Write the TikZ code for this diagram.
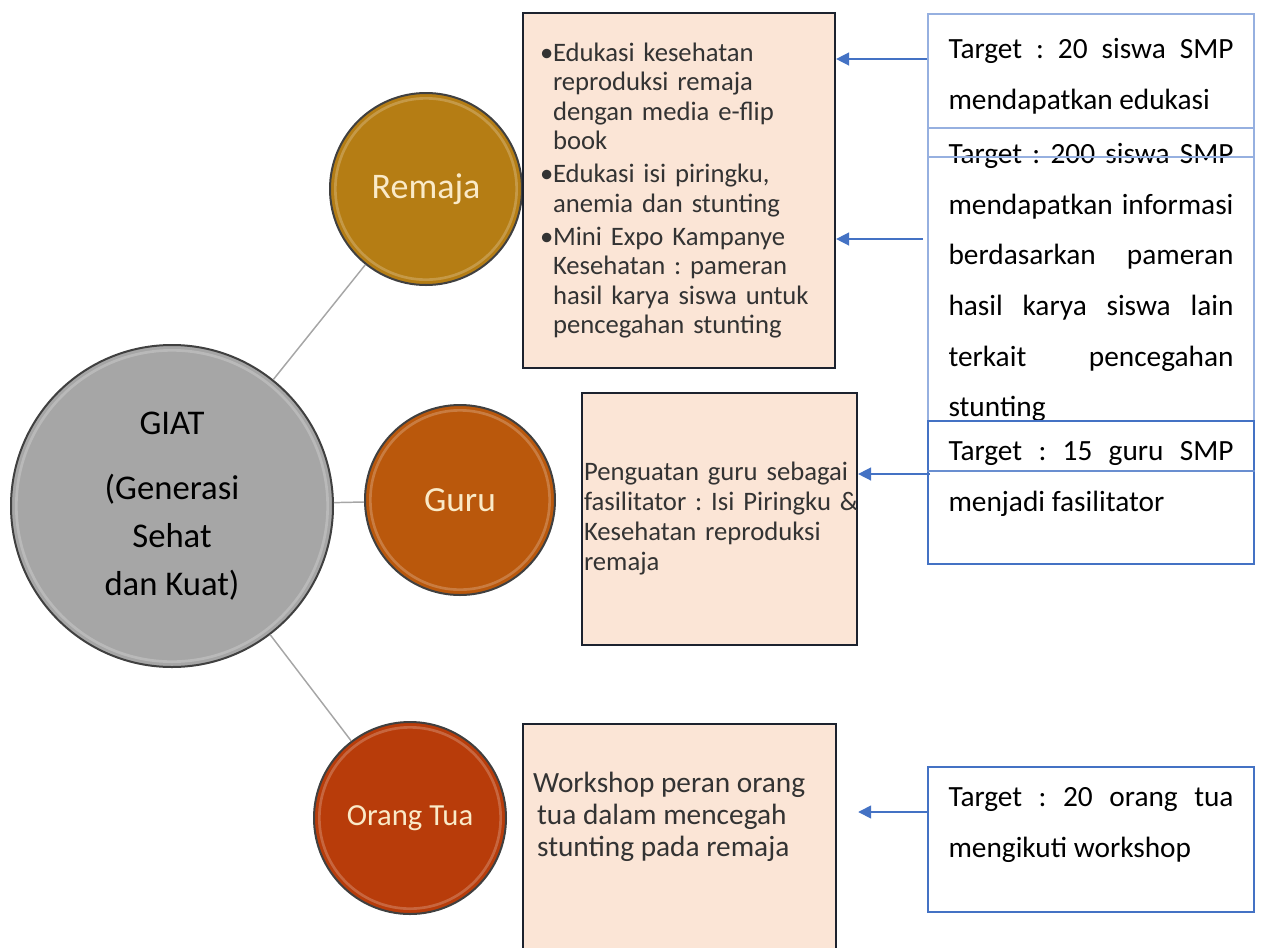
\documentclass[tikz,border=0pt]{standalone}
\usepackage{fontspec}
\setmainfont{Carlito}
\usepackage{tikz}
\usetikzlibrary{positioning,arrows.meta,calc}
\definecolor{giatgray}{RGB}{166,166,166}
\definecolor{remajagold}{RGB}{181,125,20}
\definecolor{guruorange}{RGB}{186,88,12}
\definecolor{ortured}{RGB}{184,60,10}
\definecolor{panelfill}{RGB}{251,229,214}
\definecolor{panelline}{RGB}{28,34,46}
\definecolor{targetlight}{RGB}{150,176,224}
\definecolor{targetblue}{RGB}{68,114,196}
\definecolor{labelcream}{RGB}{250,234,200}
\newlength{\px}\setlength{\px}{0.75pt}
\newcommand{\jline}[1]{\makebox[285\px][s]{#1}}
\newcommand{\tgt}[2]{\parbox[c][#1\px][t]{285\px}{\strut #2}}
\frenchspacing

\begin{document}
\frenchspacing
\begin{tikzpicture}[
        x=0.75pt, y=-0.75pt,
        bubble/.style={circle, draw=black!75, line width=1.5pt, fill=#1, inner sep=0pt, align=center,
            path picture={\draw[white, opacity=.22, line width=2pt] let \p1=(path picture bounding box.east), \p2=(path picture bounding box.center) in (\p2) circle[radius=\x1-\x2-4pt];}},
        panel/.style={rectangle, draw=panelline, line width=1.65pt, fill=panelfill, text=black!80},
        target/.style={rectangle, draw=#1, line width=1.5pt, anchor=north west, inner xsep=20.5\px,
            font=\fontsize{22pt}{38pt}\selectfont},
        link/.style={draw=black!35, line width=1.1pt},
        arrow/.style={-{Triangle[length=9.75pt, width=9.75pt]}, targetblue, line width=1.1pt}
    ]
        \useasboundingbox (0,0) rectangle (1261,947);

        % circles
        \node[bubble=giatgray, minimum size=322\px, font=\fontsize{26pt}{36pt}\selectfont] (giat) at (172,506)
            {GIAT\\[13pt](Generasi\\Sehat\\dan Kuat)};
        \node[bubble=remajagold, minimum size=192\px, text=labelcream, font=\fontsize{27pt}{30pt}\selectfont] (remaja) at (426,189) {Remaja};
        \node[bubble=guruorange, minimum size=190\px, text=labelcream, font=\fontsize{26.5pt}{30pt}\selectfont] (guru) at (460,500) {Guru};
        \node[bubble=ortured, minimum size=192\px, text=labelcream, font=\fontsize{23pt}{26pt}\selectfont] (orangtua) at (410,818) {Orang Tua};

        \draw[link] (giat) -- (remaja);
        \draw[link] (giat) -- (guru);
        \draw[link] (giat) -- (orangtua);

        % activity panels
        \node[panel, minimum width=312\px, minimum height=355\px, inner xsep=17\px, text width=278\px, align=left,
            font=\fontsize{20pt}{22pt}\selectfont] (box1) at (679,190.5)
            {\setlength{\parskip}{4\px}%
             \hangindent=13\px\hangafter=1\makebox[13\px][l]{•}Edukasi kesehatan\newline reproduksi remaja\newline dengan media e-flip\newline book\par
             \hangindent=13\px\hangafter=1\makebox[13\px][l]{•}Edukasi isi piringku,\newline anemia dan stunting\par
             \hangindent=13\px\hangafter=1\makebox[13\px][l]{•}Mini Expo Kampanye\newline Kesehatan : pameran\newline hasil karya siswa untuk\newline pencegahan stunting\par};
        \node[panel, minimum width=275\px, minimum height=252\px, inner xsep=2\px, text width=271\px, align=left,
            font=\fontsize{20pt}{22.5pt}\selectfont] (box2) at (719.5,519)
            {Penguatan guru sebagai\newline \makebox[271\px][l]{fasilitator : Isi Piringku \&}\newline Kesehatan reproduksi\newline remaja};
        \node[panel, anchor=north west, minimum width=313\px, inner xsep=10\px, inner ysep=0pt,
            font=\fontsize{22pt}{24pt}\selectfont] (box3) at (522,723)
            {\parbox[c][250\px][t]{293\px}{\vspace*{46\px}\strut Workshop peran orang\newline
             \hspace*{4\px}tua dalam mencegah\newline \hspace*{4\px}stunting pada remaja}};

        % targets
        \node[target=targetlight, inner ysep=9\px] (t1) at (927,13)
            {\tgt{96}{\jline{Target : 20 siswa SMP}\newline mendapatkan edukasi}};
        \node[target=targetlight, inner ysep=0pt] (t2) at (927,127)
            {\tgt{293}{\jline{Target : 200 siswa SMP}\newline \jline{mendapatkan informasi}\newline
             \jline{berdasarkan pameran}\newline \jline{hasil karya siswa lain}\newline
             \jline{terkait pencegahan}\newline stunting}};
        \draw[targetlight, line width=1.5pt] ([yshift=-30\px]t2.north west) -- ([yshift=-30\px]t2.north east);
        \node[target=targetblue, inner ysep=4\px] (t3) at (927,420)
            {\tgt{135}{\jline{Target : 15 guru SMP}\newline menjadi fasilitator}};
        \draw[targetblue!80, line width=1.1pt] ([yshift=-51\px]t3.north west) -- ([yshift=-51\px]t3.north east);
        \node[target=targetblue, inner ysep=4\px] (t4) at (927,766)
            {\tgt{137}{\jline{Target : 20 orang tua}\newline mengikuti workshop}};

        \draw[arrow] ([yshift=12\px]t1.west) -- ([yshift=12\px]t1.west -| box1.east);
        \draw[arrow] ([xshift=-4\px,yshift=35.5\px]t2.west) -- ([yshift=35.5\px]t2.west -| box1.east);
        \draw[arrow] ([xshift=3\px,yshift=18.5\px]t3.west) -- ([yshift=18.5\px]t3.west -| box2.east);
        \draw[arrow, shorten >=21\px] ([yshift=27.5\px]t4.west) -- ([yshift=27.5\px]t4.west -| box3.east);
    \end{tikzpicture}
\end{document}
